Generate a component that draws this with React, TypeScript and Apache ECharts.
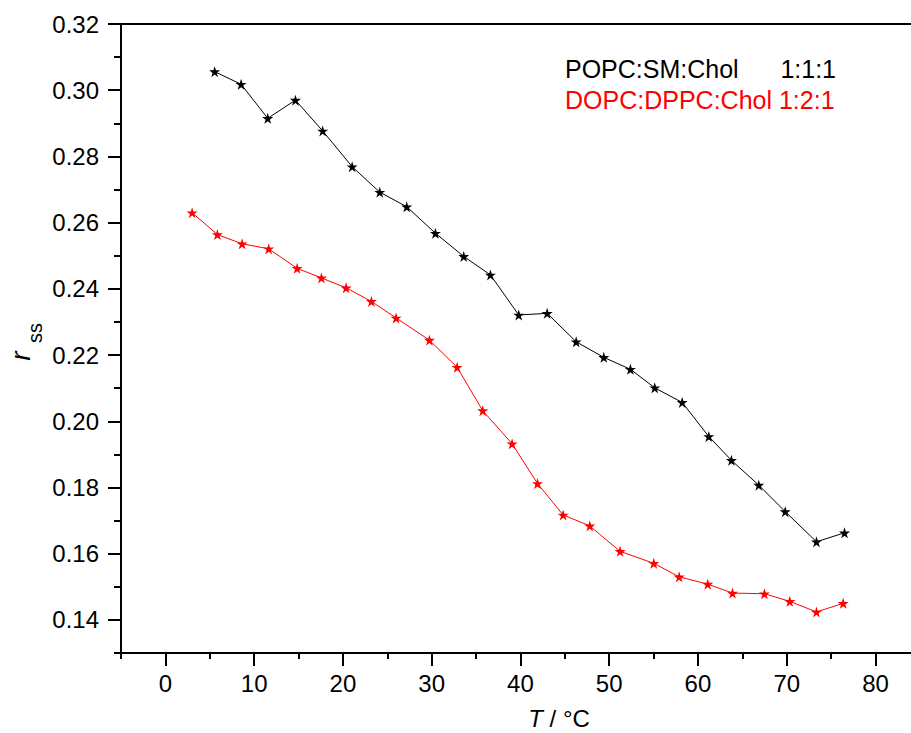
import React, { useEffect, useRef } from "react";
import * as echarts from "echarts";

// Temperature (°C) and steady-state anisotropy for each lipid mixture
const popcT = [5.55, 8.53, 11.53, 14.65, 17.72, 21.04, 24.15, 27.19, 30.42, 33.61, 36.62, 39.81, 43.01, 46.28, 49.39, 52.39, 55.13, 58.22, 61.22, 63.77, 66.85, 69.83, 73.35, 76.51];
const popcR = [0.3056, 0.3018, 0.2915, 0.297, 0.2877, 0.2769, 0.2692, 0.2648, 0.2568, 0.2498, 0.2442, 0.2321, 0.2326, 0.224, 0.2193, 0.2157, 0.2101, 0.2057, 0.1954, 0.1882, 0.1807, 0.1727, 0.1636, 0.1663];

const dopcT = [3.01, 5.86, 8.64, 11.64, 14.84, 17.58, 20.36, 23.21, 25.99, 29.75, 32.87, 35.75, 39.06, 41.92, 44.81, 47.81, 51.23, 55.02, 57.88, 61.1, 63.89, 67.49, 70.34, 73.35, 76.36];
const dopcR = [0.263, 0.2564, 0.2536, 0.2521, 0.2462, 0.2433, 0.2403, 0.2362, 0.2312, 0.2245, 0.2163, 0.2032, 0.1932, 0.1812, 0.1717, 0.1684, 0.1607, 0.1571, 0.153, 0.1508, 0.1481, 0.1479, 0.1456, 0.1424, 0.145];

const seriesNames = ["POPC:SM:Chol", "DOPC:DPPC:Chol"];
const seriesRatios = ["1:1:1", "1:2:1"];

// Axis tick positions
const xMajor = [0, 10, 20, 30, 40, 50, 60, 70, 80];
const xMinor = [-5, 5, 15, 25, 35, 45, 55, 65, 75];
const yMajor = [0.14, 0.16, 0.18, 0.2, 0.22, 0.24, 0.26, 0.28, 0.3, 0.32];
const yMinor = [0.13, 0.15, 0.17, 0.19, 0.21, 0.23, 0.25, 0.27, 0.29, 0.31];

const FONT = "'Liberation Sans', Arial, sans-serif";
const STAR =
  "path://M50 0 L61.23 34.55 L97.55 34.55 L68.16 55.9 L79.39 90.45 L50 69.1 L20.61 90.45 L31.84 55.9 L2.45 34.55 L38.77 34.55 Z";

const pairs = (xs: number[], ys: number[]) => xs.map((x, i) => [x, ys[i]]);

export default function App() {
  const ref = useRef<HTMLDivElement>(null);

  useEffect(() => {
    if (!ref.current) return;
    const chart = echarts.init(ref.current, undefined, { renderer: "svg" });

    const baseX = { type: "value", min: -5, max: 84, gridIndex: 0, splitLine: { show: false } };
    const baseY = { type: "value", min: 0.13, max: 0.32, gridIndex: 0, splitLine: { show: false } };
    const axisLineStyle = { color: "#000", width: 2 };

    chart.setOption({
      animation: false,
      backgroundColor: "#fff",
      grid: { left: 121, top: 24, right: 0, height: 629, containLabel: false },
      xAxis: [
        {
          ...baseX,
          position: "bottom",
          axisLine: { onZero: false, lineStyle: axisLineStyle },
          axisTick: { customValues: xMajor, length: 13, lineStyle: axisLineStyle },
          axisLabel: { customValues: xMajor, margin: 18, fontSize: 24, color: "#000", fontFamily: FONT },
        },
        {
          ...baseX,
          position: "bottom",
          axisLine: { show: false, onZero: false },
          axisTick: { customValues: xMinor, length: 6, lineStyle: axisLineStyle },
          axisLabel: { show: false },
        },
        {
          ...baseX,
          position: "top",
          axisLine: { onZero: false, lineStyle: axisLineStyle },
          axisTick: { show: false },
          axisLabel: { show: false },
        },
      ],
      yAxis: [
        {
          ...baseY,
          position: "left",
          axisLine: { onZero: false, lineStyle: axisLineStyle },
          axisTick: { customValues: yMajor, length: 13, lineStyle: axisLineStyle },
          axisLabel: {
            customValues: yMajor,
            margin: 22,
            fontSize: 24,
            color: "#000",
            fontFamily: FONT,
            formatter: (v: number) => v.toFixed(2),
          },
        },
        {
          ...baseY,
          position: "left",
          axisLine: { show: false, onZero: false },
          axisTick: { customValues: yMinor, length: 7, lineStyle: axisLineStyle },
          axisLabel: { show: false },
        },
      ],
      series: [
        {
          name: seriesNames[0],
          type: "line",
          xAxisIndex: 0,
          yAxisIndex: 0,
          data: pairs(popcT, popcR),
          symbol: STAR,
          symbolSize: 11,
          lineStyle: { color: "#000", width: 1 },
          itemStyle: { color: "#000" },
        },
        {
          name: seriesNames[1],
          type: "line",
          xAxisIndex: 0,
          yAxisIndex: 0,
          data: pairs(dopcT, dopcR),
          symbol: STAR,
          symbolSize: 11,
          lineStyle: { color: "#ff0000", width: 1 },
          itemStyle: { color: "#ff0000" },
        },
      ],
      graphic: [
        {
          type: "text",
          x: 565,
          y: 69,
          style: { text: seriesNames[0], fontSize: 25, fontFamily: FONT, fill: "#000", align: "left", verticalAlign: "middle" },
        },
        {
          type: "text",
          x: 836,
          y: 69,
          style: { text: seriesRatios[0], fontSize: 25, fontFamily: FONT, fill: "#000", align: "right", verticalAlign: "middle" },
        },
        {
          type: "text",
          x: 565,
          y: 100,
          style: {
            text: `${seriesNames[1]} ${seriesRatios[1]}`,
            fontSize: 25,
            fontFamily: FONT,
            fill: "#ff0000",
            align: "left",
            verticalAlign: "middle",
          },
        },
        {
          type: "text",
          x: 559,
          y: 718,
          style: {
            text: "{i|T} / °C",
            fontSize: 24,
            fontFamily: FONT,
            fill: "#000",
            align: "center",
            verticalAlign: "middle",
            rich: { i: { fontStyle: "italic", fontSize: 24, fontFamily: FONT } },
          },
        },
        {
          type: "text",
          x: 20,
          y: 356,
          rotation: Math.PI / 2,
          style: { text: "r", fontSize: 28, fontStyle: "italic", fontFamily: FONT, fill: "#000", align: "center", verticalAlign: "middle" },
        },
        {
          type: "text",
          x: 35,
          y: 333,
          rotation: Math.PI / 2,
          style: { text: "ss", fontSize: 20, fontFamily: FONT, fill: "#000", align: "center", verticalAlign: "middle" },
        },
      ],
    });

    return () => chart.dispose();
  }, []);

  return (
    <div
      ref={ref}
      style={{ position: "absolute", left: 0, top: 0, width: 911, height: 733, overflow: "hidden" }}
    />
  );
}
